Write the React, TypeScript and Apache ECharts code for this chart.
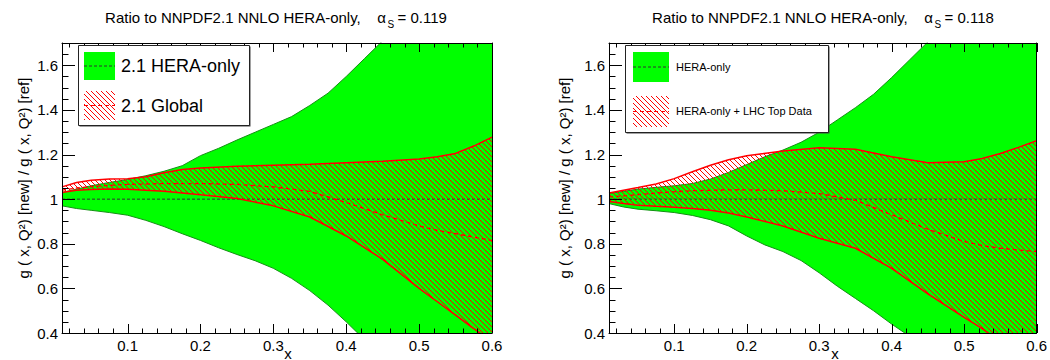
import React, { useEffect, useRef } from 'react';
import * as echarts from 'echarts';

const FONT = 'Liberation Sans, Arial, Helvetica, sans-serif';

// x nodes of the HERA-only uncertainty bands
const X_HERA = [0.01, 0.03, 0.05, 0.075, 0.1, 0.125, 0.15, 0.175, 0.2, 0.225, 0.25, 0.275, 0.3, 0.325, 0.35, 0.375, 0.4, 0.425, 0.45, 0.5, 0.55, 0.6];
// NNPDF2.1 HERA-only, alpha_s = 0.119 (upper / lower edge of the band)
const HERA119_UP = [1.03, 1.045, 1.06, 1.075, 1.088, 1.105, 1.125, 1.15, 1.195, 1.228, 1.265, 1.3, 1.335, 1.37, 1.42, 1.475, 1.55, 1.63, 1.71, 1.9, 2.1, 2.3];
const HERA119_LO = [0.97, 0.958, 0.95, 0.94, 0.928, 0.905, 0.877, 0.845, 0.815, 0.782, 0.752, 0.724, 0.69, 0.645, 0.59, 0.525, 0.45, 0.37, 0.28, 0.1, -0.1, -0.3];
// NNPDF2.1 HERA-only, alpha_s = 0.118
const HERA118_UP = [1.025, 1.035, 1.045, 1.053, 1.06, 1.07, 1.09, 1.12, 1.155, 1.19, 1.22, 1.255, 1.3, 1.355, 1.41, 1.47, 1.545, 1.625, 1.705, 1.9, 2.1, 2.3];
const HERA118_LO = [0.98, 0.965, 0.955, 0.948, 0.94, 0.927, 0.908, 0.88, 0.835, 0.795, 0.765, 0.725, 0.67, 0.61, 0.555, 0.5, 0.44, 0.385, 0.3, 0.12, -0.05, -0.2];
// reference central value (ratio of the reference to itself)
const HERA_MID_X = [0.01, 0.6];
const HERA_MID = [1, 1];

// x nodes of the comparison bands
const X_ALT = [0.01, 0.03, 0.05, 0.075, 0.1, 0.125, 0.15, 0.175, 0.2, 0.25, 0.3, 0.35, 0.4, 0.45, 0.5, 0.525, 0.55, 0.575, 0.6];
// NNPDF2.1 Global
const GLOBAL_UP = [1.055, 1.075, 1.085, 1.09, 1.092, 1.1, 1.118, 1.133, 1.14, 1.148, 1.152, 1.156, 1.163, 1.17, 1.18, 1.19, 1.205, 1.238, 1.278];
const GLOBAL_LO = [1.03, 1.04, 1.043, 1.045, 1.044, 1.04, 1.035, 1.028, 1.02, 1.003, 0.97, 0.92, 0.835, 0.73, 0.6, 0.54, 0.48, 0.42, 0.36];
const GLOBAL_MID = [1.04, 1.05, 1.056, 1.062, 1.066, 1.068, 1.07, 1.07, 1.07, 1.066, 1.055, 1.035, 0.985, 0.93, 0.88, 0.86, 0.845, 0.83, 0.815];
// HERA-only + LHC top data
const TOP_UP = [1.028, 1.04, 1.052, 1.068, 1.092, 1.123, 1.152, 1.177, 1.195, 1.216, 1.23, 1.224, 1.19, 1.163, 1.168, 1.182, 1.205, 1.232, 1.262];
const TOP_LO = [0.99, 0.98, 0.973, 0.968, 0.964, 0.958, 0.95, 0.938, 0.92, 0.88, 0.825, 0.78, 0.69, 0.575, 0.47, 0.42, 0.36, 0.3, 0.24];
const TOP_MID = [1.01, 1.015, 1.02, 1.027, 1.033, 1.038, 1.04, 1.042, 1.042, 1.038, 1.025, 0.995, 0.93, 0.865, 0.81, 0.792, 0.78, 0.772, 0.765];

// axis ranges and ticks
const X_MIN = 0.01;
const X_MAX = 0.6;
const Y_MIN = 0.4;
const Y_MAX = 1.7;
const X_MAJOR = [0.1, 0.2, 0.3, 0.4, 0.5, 0.6];
const X_MINOR = [0.02, 0.04, 0.06, 0.08, 0.12, 0.14, 0.16, 0.18, 0.22, 0.24, 0.26, 0.28, 0.32, 0.34, 0.36, 0.38, 0.42, 0.44, 0.46, 0.48, 0.52, 0.54, 0.56, 0.58];
const Y_MAJOR = [0.4, 0.6, 0.8, 1, 1.2, 1.4, 1.6];
const Y_MINOR = [0.45, 0.5, 0.55, 0.65, 0.7, 0.75, 0.85, 0.9, 0.95, 1.05, 1.1, 1.15, 1.25, 1.3, 1.35, 1.45, 1.5, 1.55, 1.65];

const ALPHA_S = ['0.119', '0.118'];
const LEGEND_HERA = ['2.1 HERA-only', 'HERA-only'];
const LEGEND_ALT = ['2.1 Global', 'HERA-only + LHC Top Data'];

const GREEN = '#00ff00';
const GREEN_EDGE = '#139013';
const RED = '#ff0000';

const PLOT_TOP = 43;
const PLOT_H = 290;
const PLOT_W = 430;
const PLOT_LEFT = [62, 609];

function measure(text: string, size: number): number {
  const ctx = document.createElement('canvas').getContext('2d')!;
  ctx.font = `${size}px "Liberation Sans", Arial, sans-serif`;
  return ctx.measureText(text).width;
}

function makeHatch() {
  const s = 5;
  const c = document.createElement('canvas');
  c.width = s;
  c.height = s;
  const ctx = c.getContext('2d')!;
  ctx.strokeStyle = RED;
  ctx.lineWidth = 1;
  ctx.beginPath();
  ctx.moveTo(-1, -1);
  ctx.lineTo(s + 1, s + 1);
  ctx.stroke();
  return { image: c, repeat: 'repeat', imageWidth: s, imageHeight: s } as any;
}

const pair = (xs: number[], ys: number[]) => xs.map((x, i) => [x, ys[i]]);

function txt(x: number, y: number, text: string, size: number, extra: any = {}) {
  return {
    type: 'text',
    x,
    y,
    z: 100,
    silent: true,
    ...extra,
    style: {
      text,
      fontSize: size,
      fontFamily: FONT,
      fill: '#000',
      align: 'left',
      verticalAlign: 'middle',
      textAlign: 'left',
      textVerticalAlign: 'middle',
      ...(extra.style || {}),
    },
  };
}

// filled band between an upper and a lower edge, placed through the axes' scales
function bandSeries(g: number, xs: number[], up: number[], lo: number[], fill: any, z: number) {
  return {
    type: 'custom',
    xAxisIndex: g * 2,
    yAxisIndex: g * 2,
    silent: true,
    z,
    data: [0],
    renderItem: (params: any, api: any) => {
      const pts: number[][] = [];
      xs.forEach((x, i) => pts.push(api.coord([x, up[i]])));
      for (let i = xs.length - 1; i >= 0; i--) pts.push(api.coord([xs[i], lo[i]]));
      const cs = params.coordSys;
      return {
        type: 'polygon',
        shape: { points: pts },
        style: { fill, stroke: null, lineWidth: 0 },
        clipPath: { type: 'rect', shape: { x: cs.x, y: cs.y, width: cs.width, height: cs.height } },
      };
    },
  };
}

export default function App() {
  const ref = useRef<HTMLDivElement>(null);

  useEffect(() => {
    if (!ref.current) return;
    const chart = echarts.init(ref.current, null, { renderer: 'svg' });
    const hatch = makeHatch();

    const panels = [
      { hUp: HERA119_UP, hLo: HERA119_LO, aUp: GLOBAL_UP, aLo: GLOBAL_LO, aMid: GLOBAL_MID },
      { hUp: HERA118_UP, hLo: HERA118_LO, aUp: TOP_UP, aLo: TOP_LO, aMid: TOP_MID },
    ];

    const grids: any[] = [];
    const xAxes: any[] = [];
    const yAxes: any[] = [];
    const series: any[] = [];
    const graphics: any[] = [];

    const axisLine = { show: true, lineStyle: { color: '#000', width: 1 } };

    panels.forEach((p, g) => {
      grids.push({ left: PLOT_LEFT[g], top: PLOT_TOP, width: PLOT_W, height: PLOT_H, containLabel: false });
      const xBase = { type: 'value', gridIndex: g, min: X_MIN, max: X_MAX, splitLine: { show: false }, axisTick: { show: false }, z: 10 };
      xAxes.push(
        {
          ...xBase,
          position: 'bottom',
          axisLine,
          axisLabel: { show: true, customValues: X_MAJOR, fontSize: 15, fontFamily: FONT, color: '#000', margin: 5 },
        },
        { ...xBase, position: 'top', axisLine, axisLabel: { show: false } }
      );
      const yBase = { type: 'value', gridIndex: g, min: Y_MIN, max: Y_MAX, splitLine: { show: false }, axisTick: { show: false }, z: 10 };
      yAxes.push(
        {
          ...yBase,
          position: 'left',
          axisLine,
          axisLabel: { show: true, customValues: Y_MAJOR, fontSize: 15, fontFamily: FONT, color: '#000', margin: 4 },
        },
        { ...yBase, position: 'right', axisLine, axisLabel: { show: false } }
      );

      const line = {
        type: 'line',
        xAxisIndex: g * 2,
        yAxisIndex: g * 2,
        symbol: 'none',
        smooth: false,
        silent: true,
        clip: true,
      };
      series.push(
        // HERA-only band, its edges and its central value
        bandSeries(g, X_HERA, p.hUp, p.hLo, GREEN, 2),
        { ...line, data: pair(X_HERA, p.hUp), lineStyle: { color: GREEN_EDGE, width: 1 }, z: 3 },
        { ...line, data: pair(X_HERA, p.hLo), lineStyle: { color: GREEN_EDGE, width: 1 }, z: 3 },
        { ...line, data: pair(HERA_MID_X, HERA_MID), lineStyle: { color: '#333', width: 1, type: [3, 2] }, z: 3 },
        // comparison band, hatched
        bandSeries(g, X_ALT, p.aUp, p.aLo, hatch, 4),
        { ...line, data: pair(X_ALT, p.aUp), lineStyle: { color: RED, width: 1.5 }, z: 5 },
        { ...line, data: pair(X_ALT, p.aLo), lineStyle: { color: RED, width: 1.5 }, z: 5 },
        { ...line, data: pair(X_ALT, p.aMid), lineStyle: { color: RED, width: 1.3, type: [4, 3] }, z: 5 }
      );

      // title with alpha_s
      const cx = PLOT_LEFT[g] + PLOT_W / 2 - 1;
      const main = 'Ratio to NNPDF2.1 NNLO HERA-only,';
      const rest = '= ' + ALPHA_S[g];
      const wMain = measure(main, 15);
      const wA = measure('α', 15);
      const wS = measure('S', 10);
      const wR = measure(rest, 15);
      const gap1 = 16.5, gap2 = 1.5, gap3 = 3.5;
      const total = wMain + gap1 + wA + gap2 + wS + gap3 + wR;
      let tx = cx - total / 2;
      graphics.push(txt(tx, 17, main, 15));
      tx += wMain + gap1;
      graphics.push(txt(tx, 17, 'α', 15));
      tx += wA + gap2;
      graphics.push(txt(tx, 24, 'S', 10));
      tx += wS + gap3;
      graphics.push(txt(tx, 17, rest, 15));

      // axis titles
      graphics.push(
        txt(g === 0 ? 23 : 564, 178, 'g ( x, Q²) [new] / g ( x, Q²) [ref]', 15, {
          rotation: Math.PI / 2,
          style: { align: 'center', textAlign: 'center' },
        })
      );
      graphics.push(txt(PLOT_LEFT[g] + 226, 353, 'x', 15, { style: { align: 'center', textAlign: 'center' } }));
    });

    // legends
    const legendBox = (x: number, y: number, w: number, h: number) => [
      { type: 'rect', z: 90, silent: true, shape: { x: x + 1, y: y + 1, width: w, height: h }, style: { fill: '#444' } },
      { type: 'rect', z: 91, silent: true, shape: { x, y, width: w, height: h }, style: { fill: '#fff', stroke: '#222', lineWidth: 1 } },
    ];
    const swatch = (x: number, y: number, w: number, h: number, fill: any, lineColor: string, dash: number[]) => [
      { type: 'rect', z: 95, silent: true, shape: { x, y, width: w, height: h }, style: { fill } },
      {
        type: 'line',
        z: 96,
        silent: true,
        shape: { x1: x, y1: y + h / 2, x2: x + w, y2: y + h / 2 },
        style: { stroke: lineColor, lineWidth: 1, lineDash: dash },
      },
    ];
    graphics.push(
      ...legendBox(78.5, 45.5, 171, 80),
      ...swatch(84, 52, 31, 28, GREEN, '#333', [3, 2]),
      txt(121, 66, LEGEND_HERA[0], 18),
      ...swatch(84, 91, 31, 29, hatch, RED, [4, 3]),
      txt(121, 106, LEGEND_ALT[0], 18),
      ...legendBox(625.5, 45.5, 203, 87),
      ...swatch(633, 52, 36, 30, GREEN, '#333', [3, 2]),
      txt(676, 67, LEGEND_HERA[1], 11),
      ...swatch(633, 96, 36, 31, hatch, RED, [4, 3]),
      txt(676, 111, LEGEND_ALT[1], 11)
    );

    const baseOption = {
      animation: false,
      backgroundColor: '#fff',
      textStyle: { fontFamily: FONT },
      grid: grids,
      xAxis: xAxes,
      yAxis: yAxes,
      series,
    };
    chart.setOption({ ...baseOption, graphic: { elements: graphics } });

    // inward tick marks as thin filled bars, positioned through each grid's scales:
    // bottom and mirrored top for x, left for y
    const ticks: any[] = [];
    const bar = (x: number, y: number, w: number, h: number) =>
      ticks.push({
        type: 'rect',
        z: 80,
        silent: true,
        shape: { x, y, width: w, height: h },
        style: { fill: '#000' },
      });
    panels.forEach((_p, g) => {
      const px = (v: number[]) => chart.convertToPixel({ xAxisIndex: g * 2, yAxisIndex: g * 2 } as any, v) as number[];
      const xTick = (v: number, len: number) => {
        const b = px([v, Y_MIN]);
        const t = px([v, Y_MAX]);
        const x = Math.round(b[0]);
        bar(x, Math.round(b[1]) - len, 1, len);
        bar(x, Math.round(t[1]), 1, len);
      };
      const yTick = (v: number, len: number) => {
        const l = px([X_MIN, v]);
        bar(Math.round(l[0]), Math.round(l[1]), len, 1);
      };
      X_MAJOR.forEach((v) => xTick(v, 9));
      X_MINOR.forEach((v) => xTick(v, 4.5));
      Y_MAJOR.forEach((v) => yTick(v, 13));
      Y_MINOR.forEach((v) => yTick(v, 6.5));
    });
    chart.setOption({ graphic: { elements: [...graphics, ...ticks] } });

    return () => chart.dispose();
  }, []);

  return (
    <div
      ref={ref}
      style={{ position: 'fixed', left: 0, top: 0, width: 1050, height: 360, background: '#fff' }}
    />
  );
}
